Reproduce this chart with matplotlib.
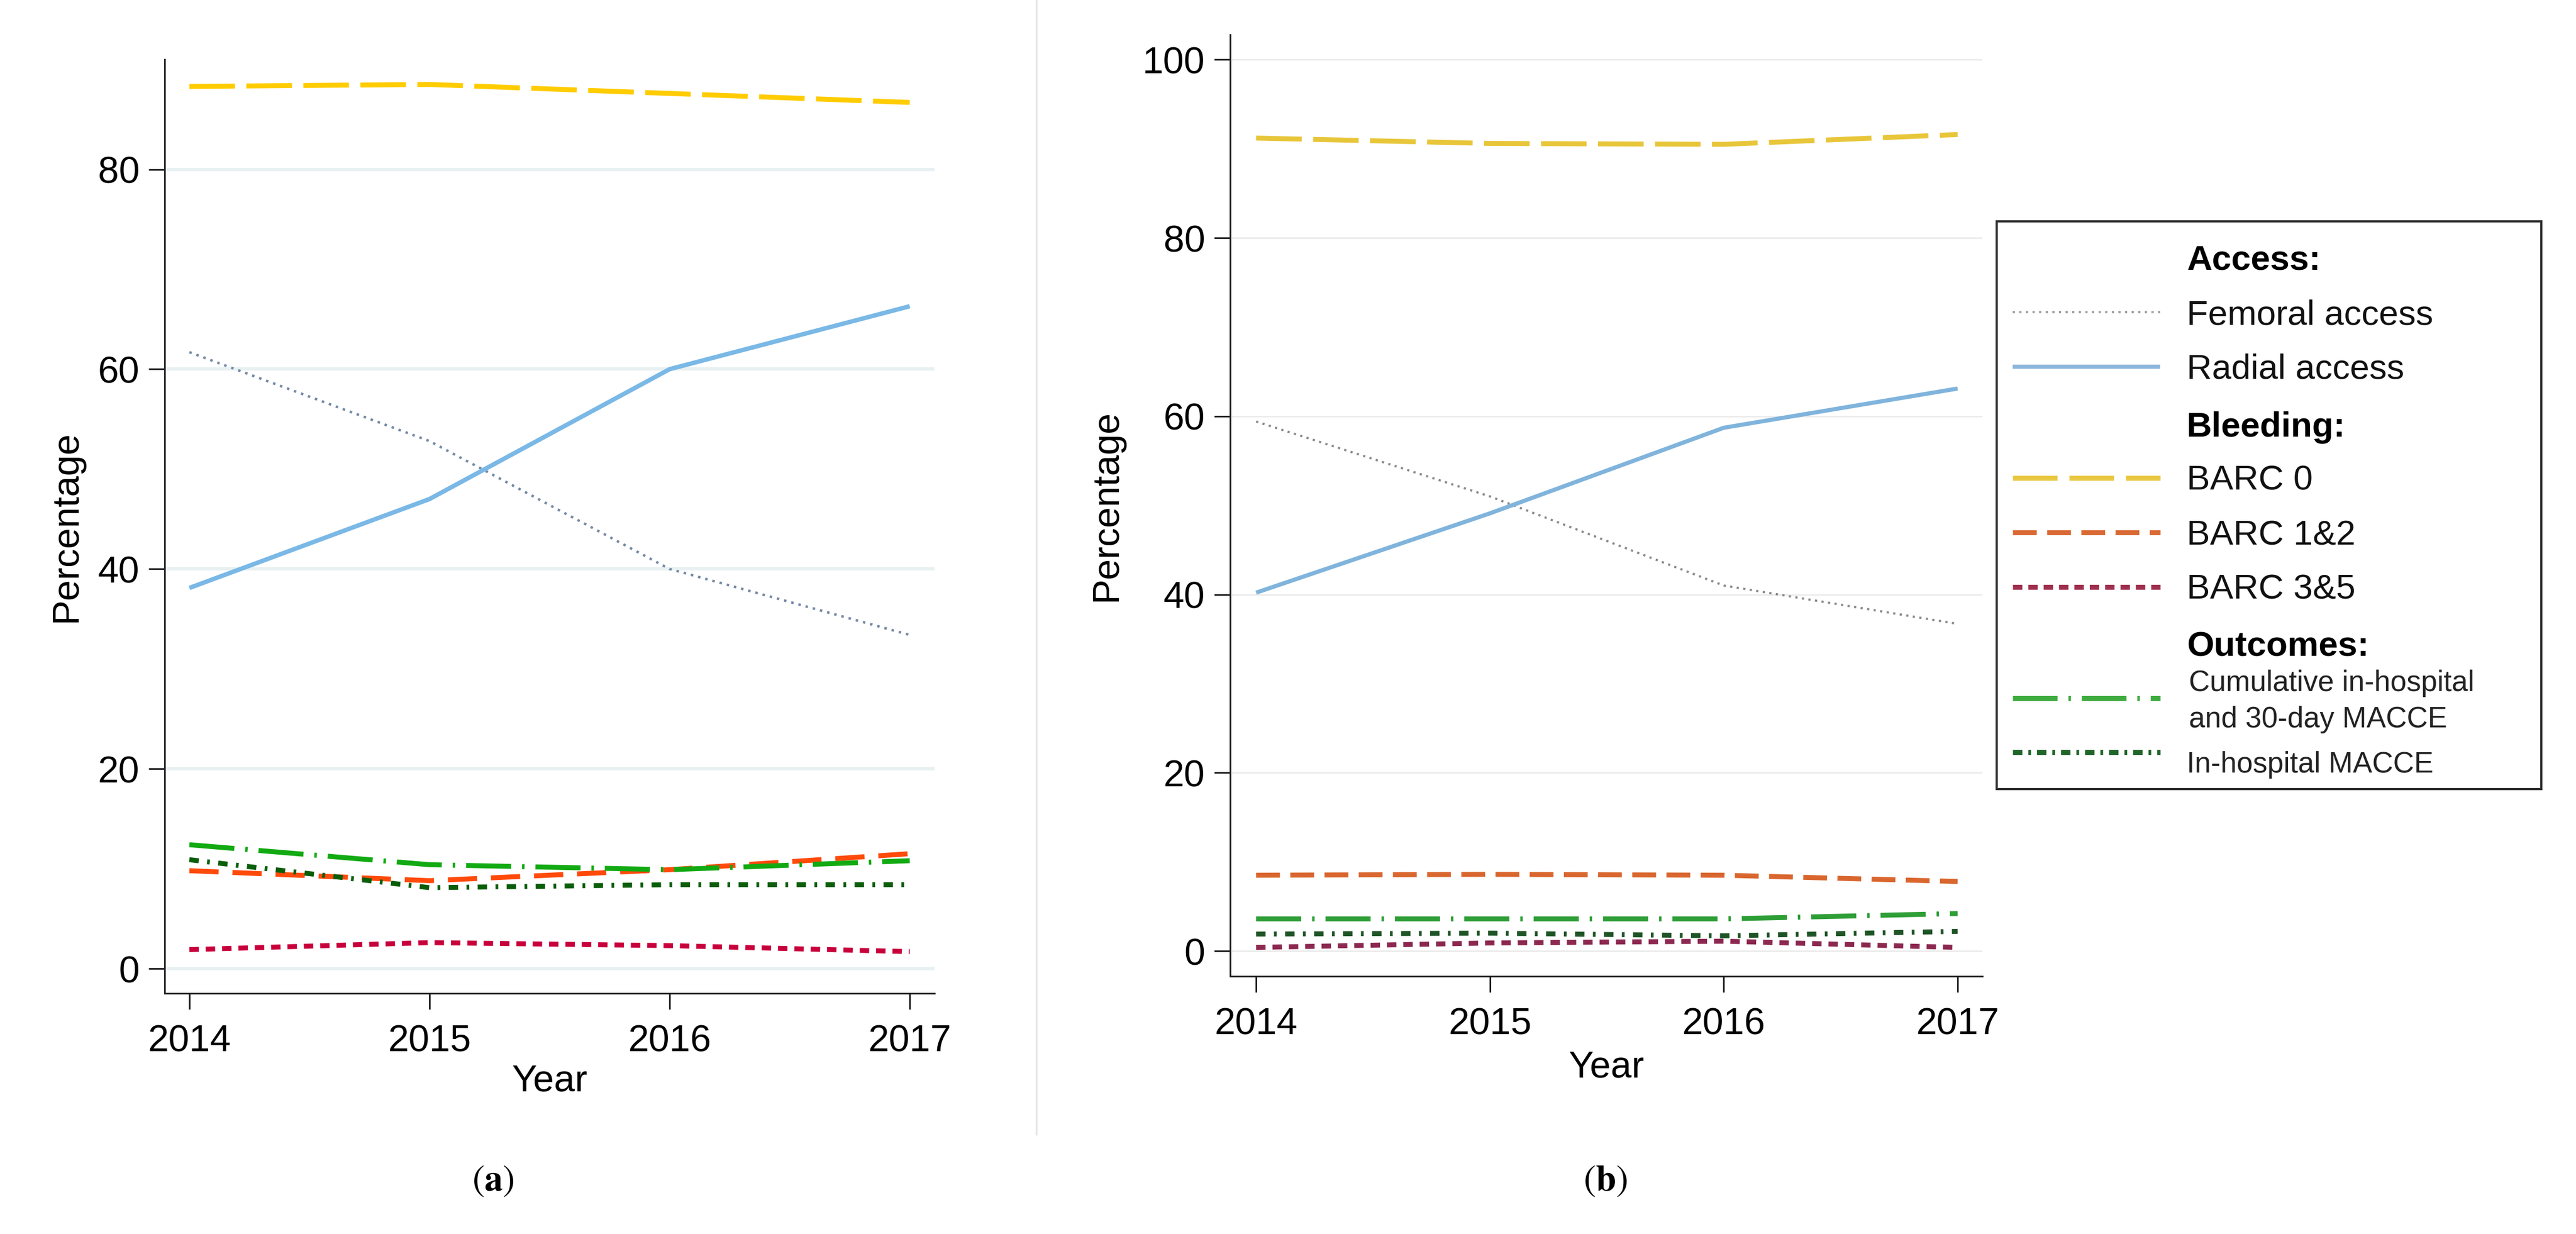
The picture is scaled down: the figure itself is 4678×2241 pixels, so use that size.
import matplotlib
matplotlib.use("Agg")
import matplotlib.pyplot as plt
from matplotlib.lines import Line2D

plt.rcParams['font.family'] = ['Liberation Sans', 'DejaVu Sans']
plt.rcParams['mathtext.fontset'] = 'stix'

# ---------------- data ----------------
years = [2014, 2015, 2016, 2017]

# panel (a)
a_femoral = [61.7, 52.8, 40.0, 33.4]
a_radial = [38.1, 47.0, 60.0, 66.3]
a_barc0 = [88.3, 88.5, 87.6, 86.7]
a_barc12 = [9.8, 8.8, 9.9, 11.5]
a_barc35 = [1.9, 2.6, 2.3, 1.7]
a_cum_macce = [12.4, 10.4, 9.9, 10.8]
a_hosp_macce = [10.9, 8.1, 8.4, 8.4]

# panel (b)
b_femoral = [59.4, 51.0, 41.0, 36.7]
b_radial = [40.2, 49.1, 58.7, 63.1]
b_barc0 = [91.2, 90.6, 90.5, 91.6]
b_barc12 = [8.5, 8.6, 8.5, 7.8]
b_barc35 = [0.4, 0.9, 1.1, 0.4]
b_cum_macce = [3.6, 3.6, 3.6, 4.2]
b_hosp_macce = [1.9, 2.0, 1.7, 2.2]

a_yticks = [0, 20, 40, 60, 80]
b_yticks = [0, 20, 40, 60, 80, 100]

legend_rows = [
    ("header", "Access:"),
    ("femoral", "Femoral access"),
    ("radial", "Radial access"),
    ("header", "Bleeding:"),
    ("barc0", "BARC 0"),
    ("barc12", "BARC 1&2"),
    ("barc35", "BARC 3&5"),
    ("header", "Outcomes:"),
    ("cum", "Cumulative in-hospital\nand 30-day MACCE"),
    ("hosp", "In-hospital MACCE"),
]

# ---------------- figure ----------------
W, H = 4678, 2241
DPI = 200
fig = plt.figure(figsize=(W / DPI, H / DPI), dpi=DPI)
fig.patch.set_facecolor('white')

PX = 72.0 / DPI  # points per pixel
LW = 9 * PX
FS_TICK = 24.5
FS_LEG = 22.8
FS_LEG_SMALL = 19


def ax_rect(x0, y0, x1, y1):
    return [x0 / W, 1 - y1 / H, (x1 - x0) / W, (y1 - y0) / H]


styles_a = {
    'femoral': dict(color='#7489A6', lw=4.5 * PX, dashes=(1.0, 2.0)),
    'radial': dict(color='#7AB8E6', lw=8 * PX, linestyle='-'),
    'barc0': dict(color='#FFCC00', lw=LW, dashes=(9.2, 2.3)),
    'barc12': dict(color='#FF4A0A', lw=LW, dashes=(5.9, 2.8)),
    'barc35': dict(color='#C8003C', lw=LW, dashes=(1.9, 1.4)),
    'cum': dict(color='#12AA12', lw=LW, dashes=(9.1, 2.2, 0.5, 2.2)),
    'hosp': dict(color='#0A5E0A', lw=LW, dashes=(1.9, 1.7, 0.55, 1.7)),
}
styles_b = {
    'femoral': dict(color='#8A8A8A', lw=4 * PX, dashes=(1.0, 2.0)),
    'radial': dict(color='#80B4DC', lw=7.5 * PX, linestyle='-'),
    'barc0': dict(color='#E8C63A', lw=LW, dashes=(9.2, 2.3)),
    'barc12': dict(color='#D9662E', lw=LW, dashes=(4.8, 2.1)),
    'barc35': dict(color='#8C2850', lw=LW, dashes=(1.9, 1.4)),
    'cum': dict(color='#2E9E36', lw=LW, dashes=(9.1, 2.2, 0.5, 2.2)),
    'hosp': dict(color='#1E5426', lw=LW, dashes=(1.9, 1.7, 0.55, 1.7)),
}
styles_leg = {
    'femoral': dict(color='#A0A0A0', lw=4 * PX, dashes=(1.0, 2.0)),
    'radial': dict(color='#8CB6DC', lw=7.5 * PX, linestyle='-'),
    'barc0': dict(color='#E8C840', lw=LW, dashes=(9.0, 2.4)),
    'barc12': dict(color='#D96A35', lw=LW, dashes=(4.8, 2.1)),
    'barc35': dict(color='#A03050', lw=LW, dashes=(1.9, 1.2)),
    'cum': dict(color='#3CAA3C', lw=LW, dashes=(9.0, 2.2, 0.5, 2.2)),
    'hosp': dict(color='#1E6428', lw=LW, dashes=(1.9, 1.2, 0.55, 1.2)),
}


def style_axes(ax, yticks, grid_color, grid_lw):
    for s in ['top', 'right']:
        ax.spines[s].set_visible(False)
    for s in ['left', 'bottom']:
        ax.spines[s].set_linewidth(3 * PX)
        ax.spines[s].set_color('#222222')
    ax.set_xticks(years)
    ax.set_xticklabels([str(y) for y in years])
    ax.set_yticks(yticks)
    ax.set_yticklabels([str(v) for v in yticks])
    ax.tick_params(axis='both', direction='out', length=29 * PX, width=3 * PX,
                   color='#222222', labelsize=FS_TICK, labelcolor='#000000')
    ax.tick_params(axis='y', pad=6)
    ax.tick_params(axis='x', pad=9.5)
    for v in yticks:
        ax.axhline(v, color=grid_color, lw=grid_lw, zorder=0)
    ax.set_facecolor('white')


def draw_panel(ax, data, styles):
    order = ['femoral', 'radial', 'barc0', 'barc12', 'barc35', 'cum', 'hosp']
    for key in order:
        st = dict(styles[key])
        ax.plot(years, data[key], solid_capstyle='butt', dash_capstyle='butt', **st)


# panel a
ax_a = fig.add_axes(ax_rect(299, 108, 1697, 1804))
style_axes(ax_a, a_yticks, '#E8F0F2', 6 * PX)
draw_panel(ax_a, dict(femoral=a_femoral, radial=a_radial, barc0=a_barc0, barc12=a_barc12,
                      barc35=a_barc35, cum=a_cum_macce, hosp=a_hosp_macce), styles_a)
ax_a.set_xlim(2013.897, 2017.103)
ax_a.set_ylim(-2.48, 91.0)
ax_a.set_xlabel('Year', fontsize=FS_TICK, labelpad=3)
ax_a.set_ylabel('Percentage', fontsize=FS_TICK, labelpad=9)

# panel b
ax_b = fig.add_axes(ax_rect(2234, 63, 3600, 1773))
style_axes(ax_b, b_yticks, '#ECECEC', 3 * PX)
draw_panel(ax_b, dict(femoral=b_femoral, radial=b_radial, barc0=b_barc0, barc12=b_barc12,
                      barc35=b_barc35, cum=b_cum_macce, hosp=b_hosp_macce), styles_b)
ax_b.set_xlim(2013.889, 2017.106)
ax_b.set_ylim(-2.84, 102.8)
ax_b.set_xlabel('Year', fontsize=FS_TICK, labelpad=5)
ax_b.set_ylabel('Percentage', fontsize=FS_TICK, labelpad=12)

# divider line between panels
fig.add_artist(Line2D([1882 / W, 1882 / W], [1.0, 1 - 2060 / H], color='#E6E6E6', lw=1.2))

# panel labels
fig.text(895 / W, 1 - 2145 / H, r'$(\mathbf{a})$', fontsize=24, ha='center', va='center')
fig.text(2915 / W, 1 - 2145 / H, r'$(\mathbf{b})$', fontsize=24, ha='center', va='center')

# legend (drawn in a box axes with pixel coordinates relative to box)
LX0, LY0, LX1, LY1 = 3626, 402, 4615, 1433
lg = fig.add_axes(ax_rect(LX0, LY0, LX1, LY1))
lg.set_xlim(0, LX1 - LX0)
lg.set_ylim(LY1 - LY0, 0)
lg.set_xticks([])
lg.set_yticks([])
for s in lg.spines.values():
    s.set_linewidth(4 * PX)
    s.set_color('#333333')

row_centers = [467, 567, 666, 771, 868, 967, 1066, 1170, 1268, 1372]
text_x = 3971 - LX0
h_x0, h_x1 = 3655 - LX0, 3923 - LX0
for (key, label), yc in zip(legend_rows, row_centers):
    y = yc - LY0
    if key == 'header':
        lg.text(text_x, y + 22, label, fontsize=FS_LEG, fontweight='bold', ha='left', va='baseline')
        continue
    st = dict(styles_leg[key])
    if key == 'cum':
        lg.plot([h_x0, h_x1], [y, y], solid_capstyle='butt', dash_capstyle='butt', **st)
        lines = label.split('\n')
        lg.text(text_x + 4, 1237 - LY0 + 18.5, lines[0], fontsize=FS_LEG_SMALL, ha='left', va='baseline', color='#222222')
        lg.text(text_x + 4, 1303 - LY0 + 18.5, lines[1], fontsize=FS_LEG_SMALL, ha='left', va='baseline', color='#222222')
    elif key == 'hosp':
        lg.plot([h_x0, h_x1], [y - 6, y - 6], solid_capstyle='butt', dash_capstyle='butt', **st)
        lg.text(text_x, y + 12 + 18.5, label, fontsize=FS_LEG_SMALL, ha='left', va='baseline', color='#222222')
    else:
        lg.plot([h_x0, h_x1], [y, y], solid_capstyle='butt', dash_capstyle='butt', **st)
        lg.text(text_x, y + 22, label, fontsize=FS_LEG, ha='left', va='baseline', color='#111111')

fig.savefig('out.png', dpi=DPI, facecolor='white')
